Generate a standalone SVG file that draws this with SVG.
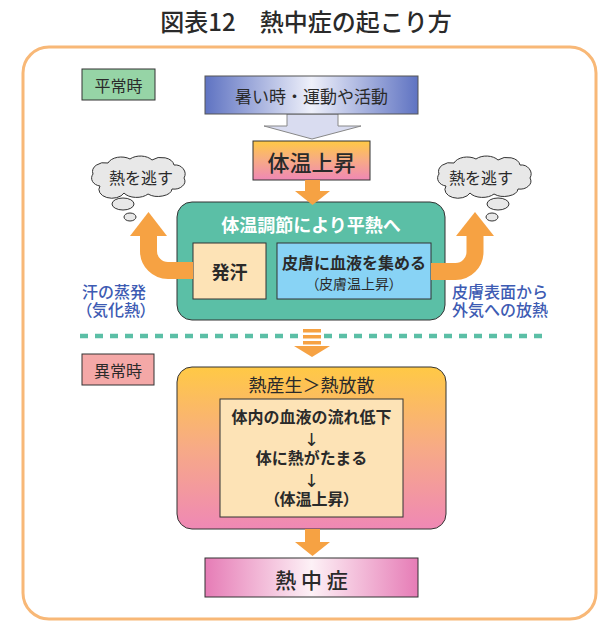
<svg xmlns="http://www.w3.org/2000/svg" width="611" height="637" viewBox="0 0 611 637">
<defs>
<style>
text{font-family:"Noto Sans CJK JP","Noto Sans CJK SC",sans-serif;text-anchor:middle;dominant-baseline:central;fill:#2a2a2a}
text.ml{font-family:"Liberation Sans","Noto Sans CJK JP","Noto Sans CJK SC",sans-serif}
text.arr{font-family:"DejaVu Sans","Noto Sans CJK JP",sans-serif;font-weight:normal;font-size:18px}
.box{stroke:#333;stroke-width:1}
.lbl{font-size:16px}
.blue{fill:#3d5bb3;font-size:16px;font-weight:500}
.p{font-feature-settings:"palt"}
.orange{fill:#f6a243}
.cloud{fill:#e8e8e8;stroke:#333;stroke-width:1}
.band{fill:none;stroke:#f6a243;stroke-width:17}
</style>
<linearGradient id="gBlue" x1="0" y1="0" x2="1" y2="0">
<stop offset="0" stop-color="#5f73c2"/><stop offset="0.5" stop-color="#eef0fa"/><stop offset="1" stop-color="#5f73c2"/>
</linearGradient>
<linearGradient id="gWarm" x1="0" y1="0" x2="0" y2="1">
<stop offset="0" stop-color="#ffc945"/><stop offset="0.5" stop-color="#f7aa86"/><stop offset="1" stop-color="#ef88b5"/>
</linearGradient>
<linearGradient id="gPink" x1="0" y1="0" x2="1" y2="0">
<stop offset="0" stop-color="#e67cb6"/><stop offset="0.5" stop-color="#fdf1f6"/><stop offset="1" stop-color="#e67cb6"/>
</linearGradient>
<path id="cloudShape" d="M -38,10 A 10 8 0 0 1 -45,-2 A 12 9 0 0 1 -30,-13 A 14 9 0 0 1 -8,-17 A 14 9 0 0 1 14,-16 A 13 9 0 0 1 36,-11 A 10 9 0 0 1 46,2 A 11 8 0 0 1 34,13 A 14 8 0 0 1 10,18 A 14 8 0 0 1 -14,17 A 12 8 0 0 1 -38,10 Z"/>
</defs>

<rect width="611" height="637" fill="#fff"/>
<text id="title" x="306" y="20" style="font-size:24px;font-weight:500">図表12　熱中症の起こり方</text>
<rect id="frame" x="23" y="47" width="573" height="572" rx="26" fill="none" stroke="#f8b877" stroke-width="3"/>

<g id="label-normal">
<rect class="box" x="82" y="69" width="73" height="31" fill="#96d4a6"/>
<text class="lbl" x="118.5" y="85">平常時</text>
</g>

<g id="node-cause">
<path d="M 287,114 H 338 V 126 H 361 L 312,139 L 264,126 H 287 Z" fill="#d9dcf0" stroke="#888" stroke-width="1"/>
<rect x="205" y="76" width="213" height="38" fill="url(#gBlue)" stroke="#555" stroke-width="1"/>
<text x="311.5" y="95" style="font-size:17px">暑い時・運動や活動</text>
</g>

<g id="node-rise">
<rect class="box" x="253" y="141" width="117" height="39" fill="url(#gWarm)"/>
<text x="311.5" y="161" style="font-size:22px;font-weight:500">体温上昇</text>
</g>

<g id="cloud-left">
<use href="#cloudShape" class="cloud" transform="translate(138,176)"/>
<ellipse class="cloud" cx="123" cy="204" rx="11" ry="6"/>
<ellipse class="cloud" cx="130" cy="217" rx="6" ry="4"/>
<text x="141" y="177" style="font-size:16px">熱を逃す</text>
</g>

<g id="cloud-right">
<use href="#cloudShape" class="cloud" transform="translate(484,176)"/>
<ellipse class="cloud" cx="498" cy="204" rx="11" ry="6"/>
<ellipse class="cloud" cx="492" cy="217" rx="6" ry="4"/>
<text x="481" y="177" style="font-size:16px">熱を逃す</text>
</g>

<g id="node-regulation">
<rect class="box" x="177" y="202" width="268" height="118" rx="15" fill="#5bbfa6"/>
<text x="311" y="224" style="font-size:18px;font-weight:bold;fill:#fff">体温調節により平熱へ</text>
</g>

<g id="node-sweat">
<rect class="box" x="193" y="243" width="73" height="56" fill="#fde3b6"/>
<text x="229.5" y="271" style="font-size:18px;font-weight:bold">発汗</text>
</g>

<g id="node-skin">
<rect class="box" x="277" y="243" width="154" height="56" fill="#88d3f5"/>
<text x="354" y="262" style="font-size:16px;font-weight:bold">皮膚に血液を集める</text>
<text class="p" x="354" y="283" style="font-size:14px">（皮膚温上昇）</text>
</g>

<g id="note-left">
<text class="blue ml" x="114" y="292.5">汗の蒸発</text>
<text class="blue ml p" x="116" y="310.5">（気化熱）</text>
</g>
<g id="note-right">
<text class="blue ml" x="500" y="292.5">皮膚表面から</text>
<text class="blue ml" x="500" y="310.5">外気への放熱</text>
</g>

<g id="label-abnormal">
<rect class="box" x="82" y="354" width="72" height="31" fill="#f4a8a7"/>
<text class="lbl" x="118" y="370">異常時</text>
</g>

<g id="node-abnormal">
<rect class="box" x="177" y="367" width="269" height="162" rx="15" fill="url(#gWarm)"/>
<text x="311.5" y="384" style="font-size:18px">熱産生＞熱放散</text>
</g>

<g id="node-process">
<rect class="box" x="220" y="399" width="183" height="118" fill="#fde3b6"/>
<g style="font-size:16px;font-weight:bold">
<text class="ml" x="311.5" y="417.5">体内の血液の流れ低下</text>
<text class="arr" x="311.5" y="439">↓</text>
<text class="ml" x="311.5" y="458.5">体に熱がたまる</text>
<text class="arr" x="311.5" y="480">↓</text>
<text class="ml p" x="311.5" y="499.5">（体温上昇）</text>
</g>
</g>

<g id="node-heatstroke">
<rect class="box" x="205" y="558" width="213" height="39" fill="url(#gPink)"/>
<text x="311.5" y="579" style="font-size:21px;font-weight:500">熱 中 症</text>
</g>

<g id="connectors">
<path class="orange" d="M 305,180 H 320 V 191 H 330 L 312.5,205 L 295,191 H 305 Z"/>
<path class="band" d="M 193,270.5 H 168 A 19.5 19.5 0 0 1 148.5 251 V 234"/>
<polygon class="orange" points="130,236 167,236 148.5,212"/>
<path class="band" d="M 431,271.5 H 455.5 A 19.5 19.5 0 0 0 475 252 V 234"/>
<polygon class="orange" points="456,236 494,236 475,212"/>
<line x1="80" y1="336" x2="298" y2="336" stroke="#5bbfa6" stroke-width="4.5" stroke-dasharray="8 7"/>
<line x1="324" y1="336" x2="548" y2="336" stroke="#5bbfa6" stroke-width="4.5" stroke-dasharray="8 7"/>
<rect class="orange" x="303" y="329" width="18" height="3.5"/>
<rect class="orange" x="303" y="335" width="18" height="3.5"/>
<rect class="orange" x="303" y="341" width="18" height="3.5"/>
<polygon class="orange" points="294,346 330,346 312,357"/>
<path class="orange" d="M 305,529 H 320 V 542 H 330 L 312.5,556 L 295,542 H 305 Z"/>
</g>
</svg>
